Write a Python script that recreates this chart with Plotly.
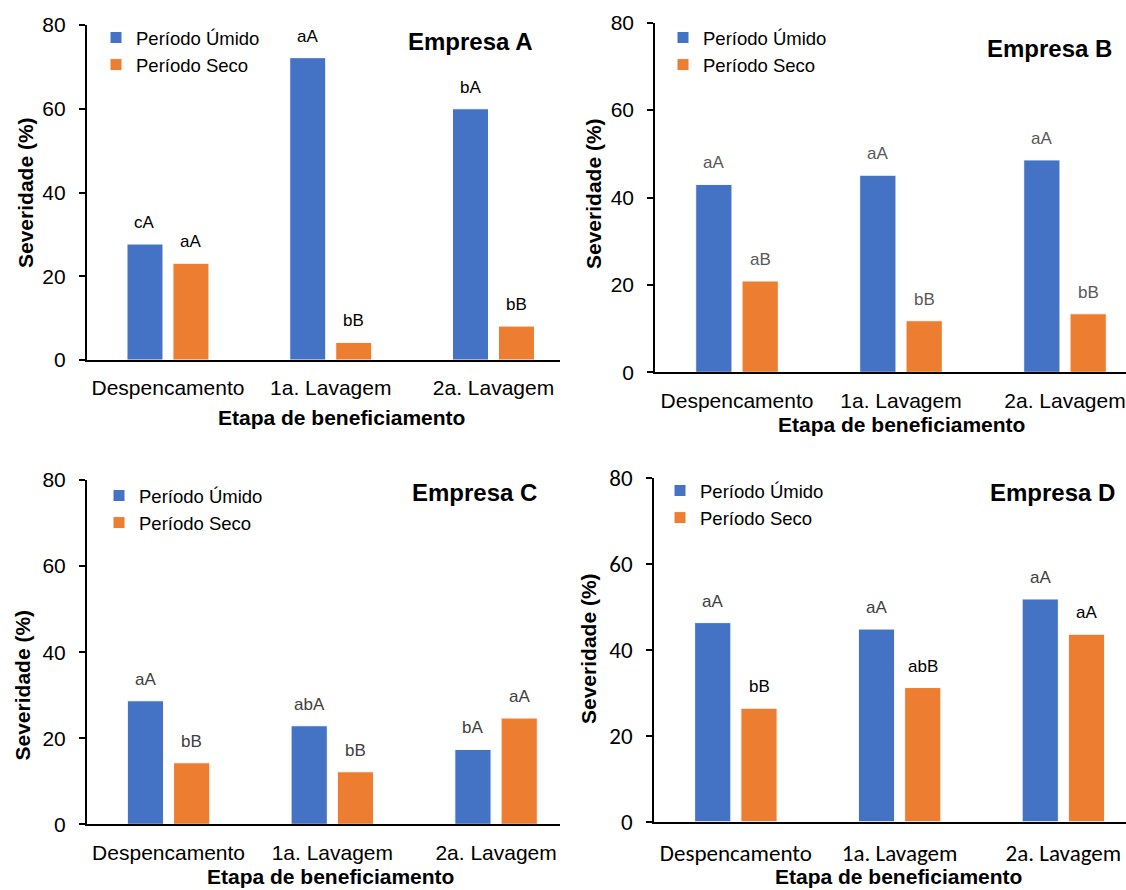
import plotly.graph_objects as go

# ---------------- data ----------------
categories = ["Despencamento", "1a. Lavagem", "2a. Lavagem"]
series_names = ["Período Úmido", "Período Seco"]

A_umido = [27.7, 72.2, 60.0]
A_seco = [23.1, 4.2, 8.1]
A_lab_umido = ["cA", "aA", "bA"]
A_lab_seco = ["aA", "bB", "bB"]

B_umido = [43.0, 45.1, 48.6]
B_seco = [20.9, 11.8, 13.4]
B_lab_umido = ["aA", "aA", "aA"]
B_lab_seco = ["aB", "bB", "bB"]

C_umido = [28.7, 22.9, 17.4]
C_seco = [14.3, 12.2, 24.7]
C_lab_umido = ["aA", "abA", "bA"]
C_lab_seco = ["bB", "bB", "aA"]

D_umido = [46.3, 44.8, 51.8]
D_seco = [26.4, 31.2, 43.6]
D_lab_umido = ["aA", "aA", "aA"]
D_lab_seco = ["bB", "abB", "aA"]

panel_titles = ["Empresa A", "Empresa B", "Empresa C", "Empresa D"]
y_ticks = [0, 20, 40, 60, 80]
x_title = "Etapa de beneficiamento"
y_title = "Severidade (%)"

# ---------------- style / layout ----------------
W, H = 1126, 890
BLUE = "#4472C4"
ORANGE = "#ED7D31"
ARIAL = "Arial, Liberation Sans, sans-serif"
CALIBRI = "Carlito, Calibri, Lato, sans-serif"
BARGAP = 0.435
BARGROUPGAP = 0.217

# pixel geometry of each panel
panels = [
    dict(xl=86.6, xr=560, sp=162.75, y0=360.0, y80=25.0,
         umido=A_umido, seco=A_seco, lu=A_lab_umido, ls=A_lab_seco,
         lab_col_u="#000000", lab_col_s="#000000", tickfont=ARIAL, tsize=21,
         xstand=8, ystand=9,
         legend=(96, 19), title_xy=(470.8, 41), xt=(341.6, 417), yt=(25.5, 192.5)),
    dict(xl=655.0, xr=1126, sp=164.0, y0=372.3, y80=22.7,
         umido=B_umido, seco=B_seco, lu=B_lab_umido, ls=B_lab_seco,
         lab_col_u="#595959", lab_col_s="#595959", tickfont=ARIAL, tsize=21,
         xstand=8, ystand=9,
         legend=(663, 19), title_xy=(1049.6, 48), xt=(901.6, 425), yt=(593, 194)),
    dict(xl=86.7, xr=560, sp=163.75, y0=824.3, y80=480.0,
         umido=C_umido, seco=C_seco, lu=C_lab_umido, ls=C_lab_seco,
         lab_col_u="#404040", lab_col_s="#404040", tickfont=ARIAL, tsize=21,
         xstand=8, ystand=9,
         legend=(99, 477), title_xy=(474.3, 492), xt=(330.8, None), yt=(21.5, 685)),
    dict(xl=654.0, xr=1126, sp=163.75, y0=821.7, y80=477.7,
         umido=D_umido, seco=D_seco, lu=D_lab_umido, ls=D_lab_seco,
         lab_col_u="#404040", lab_col_s="#000000", tickfont=CALIBRI, tsize=23,
         xstand=10, ystand=9,
         legend=(660, 472), title_xy=(1052, 492), xt=(898.3, None), yt=(588, 649)),
]

fig = go.Figure()
annotations = []
layout_upd = {}
off = (1 - BARGAP) / 4.0

for k, p in enumerate(panels):
    n = "" if k == 0 else str(k + 1)
    xa, ya = "x" + n, "y" + n
    leg = "legend" + n
    for vals, name, col in ((p["umido"], series_names[0], BLUE),
                            (p["seco"], series_names[1], ORANGE)):
        fig.add_trace(go.Bar(
            x=categories, y=vals, name=name, xaxis=xa, yaxis=ya,
            marker=dict(color=col, line=dict(color="white", width=1)),
            legend=leg, showlegend=True, hoverinfo="x+y+name",
        ))
    rng_end = -0.5 + (p["xr"] - p["xl"]) / p["sp"]
    layout_upd["xaxis" + n] = dict(
        domain=[p["xl"] / W, p["xr"] / W], anchor=ya, range=[-0.5, rng_end],
        type="category", showline=True, linecolor="black", linewidth=2,
        ticks="", showgrid=False, zeroline=False, fixedrange=True, automargin=False,
        tickfont=dict(family=p["tickfont"], size=p["tsize"], color="#000000"),
        ticklabelstandoff=p["xstand"],
    )
    layout_upd["yaxis" + n] = dict(
        domain=[1 - p["y0"] / H, 1 - p["y80"] / H], anchor=xa, range=[0, 80],
        tickvals=y_ticks, showline=True, linecolor="black", linewidth=1.5,
        ticks="outside", ticklen=6, tickwidth=1.5, tickcolor="black",
        showgrid=False, zeroline=False, fixedrange=True, automargin=False,
        tickfont=dict(family=p["tickfont"], size=p["tsize"], color="#000000"),
        ticklabelstandoff=p["ystand"],
    )
    layout_upd[leg] = dict(
        x=p["legend"][0] / W, y=1 - p["legend"][1] / H, xanchor="left", yanchor="top",
        xref="paper", yref="paper",
        bgcolor="rgba(0,0,0,0)", borderwidth=0, tracegroupgap=0,
        font=dict(family=ARIAL, size=18.5, color="#000000"),
        traceorder="normal",
    )
    for i in range(len(categories)):
        annotations.append(dict(
            x=i - off, y=p["umido"][i], xref=xa, yref=ya, text=p["lu"][i],
            showarrow=False, yanchor="bottom", xanchor="center", yshift=10,
            font=dict(family=ARIAL, size=17, color=p["lab_col_u"])))
        annotations.append(dict(
            x=i + off, y=p["seco"][i], xref=xa, yref=ya, text=p["ls"][i],
            showarrow=False, yanchor="bottom", xanchor="center", yshift=10,
            font=dict(family=ARIAL, size=17, color=p["lab_col_s"])))
    annotations.append(dict(
        x=p["title_xy"][0] / W, y=1 - p["title_xy"][1] / H, xref="paper", yref="paper",
        text="<b>%s</b>" % panel_titles[k], showarrow=False,
        xanchor="center", yanchor="middle",
        font=dict(family=ARIAL, size=24, color="#000000")))
    if p["xt"][1] is None:
        xt_y, xt_anchor = 0.0, "bottom"
    else:
        xt_y, xt_anchor = 1 - p["xt"][1] / H, "middle"
    annotations.append(dict(
        x=p["xt"][0] / W, y=xt_y, xref="paper", yref="paper",
        text="<b>%s</b>" % x_title, showarrow=False,
        xanchor="center", yanchor=xt_anchor,
        font=dict(family=ARIAL, size=21, color="#000000")))
    annotations.append(dict(
        x=p["yt"][0] / W, y=1 - p["yt"][1] / H, xref="paper", yref="paper",
        text="<b>%s</b>" % y_title, showarrow=False, textangle=-90,
        xanchor="center", yanchor="middle",
        font=dict(family=ARIAL, size=21, color="#000000")))

fig.update_layout(
    width=W, height=H, margin=dict(l=0, r=0, t=0, b=0, pad=0, autoexpand=False),
    paper_bgcolor="white", plot_bgcolor="white",
    barmode="group", bargap=BARGAP, bargroupgap=BARGROUPGAP,
    annotations=annotations, showlegend=True,
    font=dict(family=ARIAL, color="#000000"),
    **layout_upd,
)

fig.write_html(
    "out.html",
    config={"displayModeBar": False},
    post_script="document.body.style.margin='0px';document.body.style.overflow='hidden';",
)
